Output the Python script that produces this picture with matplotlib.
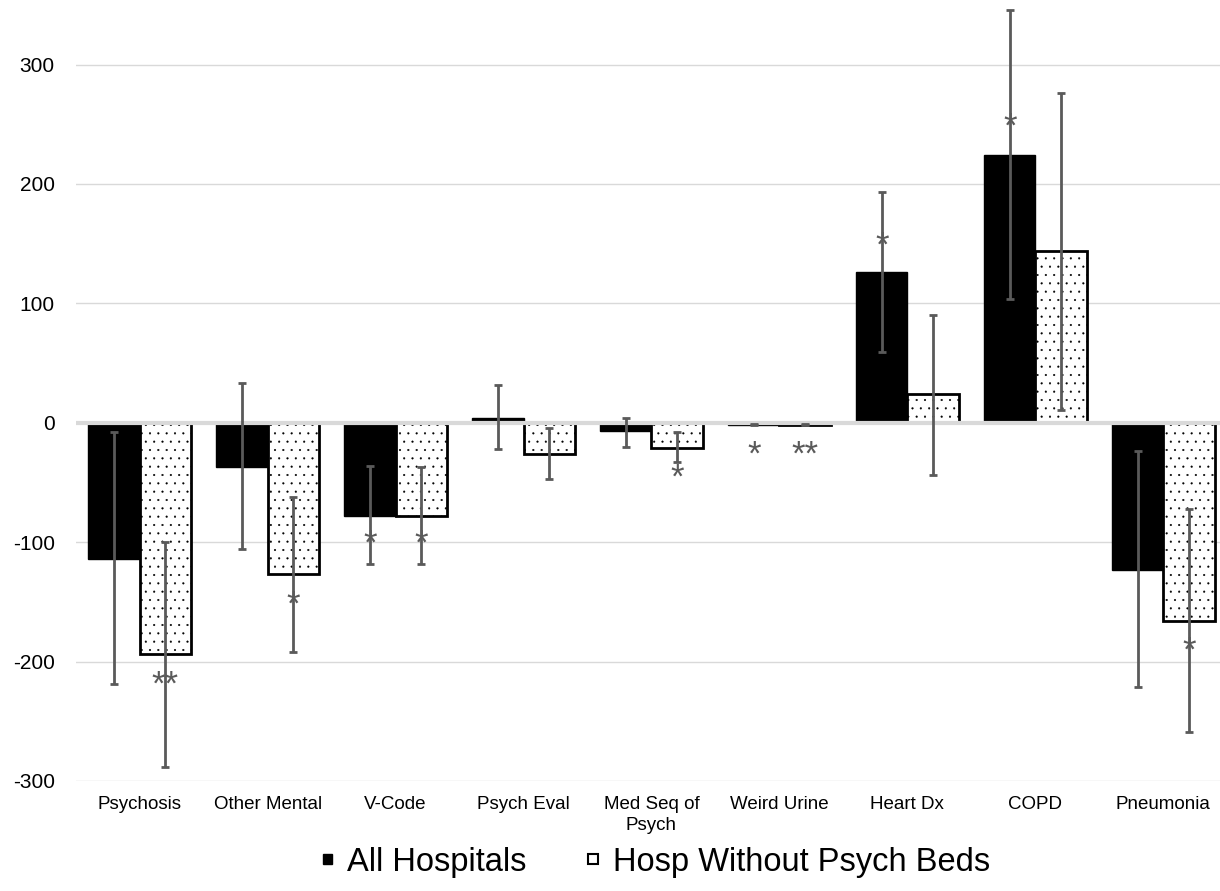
import matplotlib.pyplot as plt
import numpy as np

plt.rcParams['font.family'] = ['Liberation Sans', 'DejaVu Sans']
plt.rcParams['hatch.linewidth'] = 0.3
plt.rcParams['axes.unicode_minus'] = False

categories = ['Psychosis', 'Other Mental', 'V-Code', 'Psych Eval', 'Med Seq of\nPsych',
              'Weird Urine', 'Heart Dx', 'COPD', 'Pneumonia']

all_vals = [-114, -37, -78, 4, -7, -1.5, 126, 224, -123]
all_low = [-219, -106, -118, -22, -20, -2, 59, 104, -221]
all_high = [-8, 33, -36, 32, 4, -1, 193, 346, -24]

hosp_vals = [-194, -127, -78, -26, -21, -1.5, 24, 144, -166]
hosp_low = [-288, -192, -118, -47, -33, -2, -44, 11, -259]
hosp_high = [-100, -62, -37, -4, -8, -1, 90, 276, -72]

# significance marks: (category, series, y, text)
stars = [(0, 1, -213, '**'), (1, 1, -146, '*'), (2, 0, -95, '*'), (2, 1, -95, '*'),
         (4, 1, -39, '*'), (5, 0, -20, '*'), (5, 1, -20, '**'),
         (6, 0, 155, '*'), (7, 0, 255, '*'), (8, 1, -184, '*')]

fig = plt.figure(figsize=(12.2, 8.91), dpi=100)
ax = fig.add_axes([0.062, 0.1235, 0.944, 0.871])

x = np.arange(len(categories))
w = 0.4
xa = x - w / 2
xh = x + w / 2

ax.bar(xa, all_vals, w, color='black', edgecolor='black', linewidth=1, zorder=2)
ax.bar(xh, hosp_vals, w, color='white', edgecolor='black', linewidth=2,
       hatch='..', zorder=2)

ax.axhline(0, color='#d9d9d9', lw=3, zorder=3)

err_all = [np.array(all_vals) - np.array(all_low), np.array(all_high) - np.array(all_vals)]
err_hosp = [np.array(hosp_vals) - np.array(hosp_low), np.array(hosp_high) - np.array(hosp_vals)]
ax.errorbar(xa, all_vals, yerr=err_all, fmt='none', ecolor='#5a5a5a', elinewidth=2,
            capsize=3, capthick=2, zorder=4)
ax.errorbar(xh, hosp_vals, yerr=err_hosp, fmt='none', ecolor='#5a5a5a', elinewidth=2,
            capsize=3, capthick=2, zorder=4)

for ci, s, y, t in stars:
    xp = xa[ci] if s == 0 else xh[ci]
    ax.annotate(t, (xp, y), xytext=(0, -6), textcoords='offset points', ha='center',
                va='center', fontsize=25, color='#5a5a5a', zorder=5)

ax.set_xlim(-0.5, len(categories) - 0.5)
ax.set_ylim(-300, 350)
ax.set_yticks([-300, -200, -100, 0, 100, 200, 300])
ax.set_xticks(x)
ax.set_xticklabels(categories, fontsize=13.5, linespacing=1.3)
ax.tick_params(axis='y', labelsize=15, length=0, pad=15)
ax.tick_params(axis='x', length=0, pad=11)
ax.yaxis.grid(True, color='#d9d9d9', lw=1)
ax.set_axisbelow(True)
for sp in ax.spines.values():
    sp.set_visible(False)

h1 = plt.Rectangle((0, 0), 1, 1, facecolor='black', edgecolor='black')
h2 = plt.Rectangle((0, 0), 1, 1, facecolor='white', edgecolor='black', lw=1.5)
fig.legend([h1, h2], ['All Hospitals', 'Hosp Without Psych Beds'], loc='center',
           bbox_to_anchor=(0.538, 0.0325), ncol=2, frameon=False, fontsize=23.5,
           handlelength=0.3, handleheight=0.085, handletextpad=0.45, columnspacing=1.9)

fig.savefig('out.png', dpi=100)
